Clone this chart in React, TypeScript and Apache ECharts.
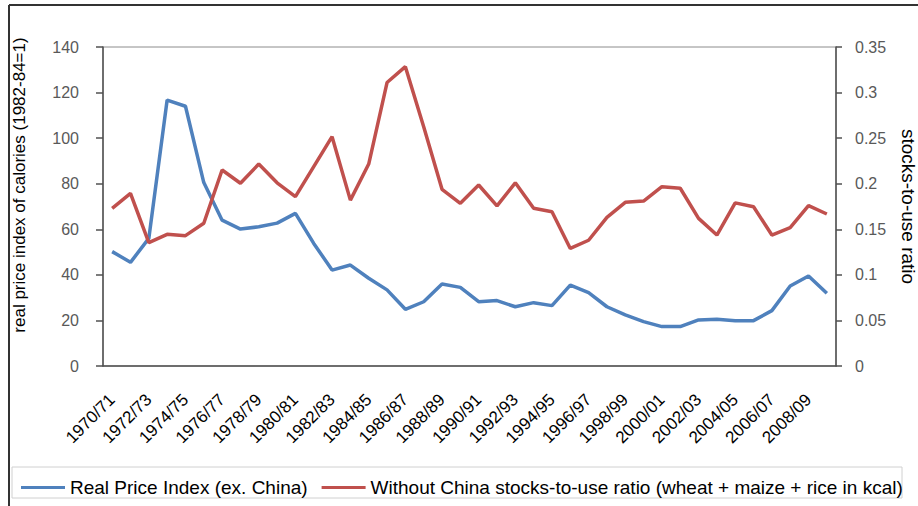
import React, { useEffect, useRef } from "react";
import * as echarts from "echarts";

const categories: string[] = [
  "1970/71", "1971/72", "1972/73", "1973/74", "1974/75", "1975/76", "1976/77", "1977/78", "1978/79", "1979/80",
  "1980/81", "1981/82", "1982/83", "1983/84", "1984/85", "1985/86", "1986/87", "1987/88", "1988/89", "1989/90",
  "1990/91", "1991/92", "1992/93", "1993/94", "1994/95", "1995/96", "1996/97", "1997/98", "1998/99", "1999/00",
  "2000/01", "2001/02", "2002/03", "2003/04", "2004/05", "2005/06", "2006/07", "2007/08", "2008/09", "2009/10",
];

const realPriceIndex: number[] = [
  50.2, 45.5, 56, 116.7, 114, 80.5, 64, 60.1, 61.1, 62.7,
  67, 53.8, 42.1, 44.3, 38.5, 33.4, 24.9, 28.2, 36, 34.5,
  28.2, 28.7, 26, 27.8, 26.5, 35.5, 32.2, 26, 22.4, 19.5,
  17.3, 17.3, 20.2, 20.5, 19.9, 19.9, 24.3, 35.1, 39.5, 31.9,
];

const stocksToUse: number[] = [
  0.173, 0.1895, 0.1353, 0.1445, 0.143, 0.1566, 0.215, 0.2005, 0.2216, 0.201,
  0.1858, 0.2187, 0.2516, 0.182, 0.2216, 0.311, 0.3284, 0.2626, 0.1939, 0.1785,
  0.1986, 0.1756, 0.201, 0.173, 0.1693, 0.129, 0.138, 0.163, 0.1796, 0.181,
  0.1967, 0.195, 0.162, 0.1437, 0.179, 0.1748, 0.1437, 0.1518, 0.176, 0.1668,
];

const seriesNames: string[] = [
  "Real Price Index (ex. China)",
  "Without China stocks-to-use ratio (wheat + maize + rice in kcal)",
];

const leftAxisName = "real price index of calories (1982-84=1)";
const rightAxisName = "stocks-to-use ratio";

export default function App() {
  const ref = useRef<HTMLDivElement>(null);
  useEffect(() => {
    if (!ref.current) return;
    const chart = echarts.init(ref.current, undefined, { renderer: "svg" });
    const font = "Liberation Sans, Arial, sans-serif";
    const axisColor = "#505050";
    chart.setOption({
      animation: false,
      backgroundColor: "#ffffff",
      textStyle: { fontFamily: font },
      grid: {
        left: 103,
        right: 82,
        top: 47,
        bottom: 140,
        containLabel: false,
        outerBoundsMode: "none",
        show: true,
        borderColor: "#8c8c8c",
        borderWidth: 1,
      },
      graphic: [
        { type: "line", shape: { x1: 9, y1: 5, x2: 918, y2: 5 }, style: { stroke: "#333", lineWidth: 2 } },
        { type: "line", shape: { x1: 9, y1: 5, x2: 9, y2: 506 }, style: { stroke: "#333", lineWidth: 2 } },
        { type: "rect", shape: { x: 12, y: 467, width: 890, height: 31 }, style: { fill: "none", stroke: "#d0d0d0", lineWidth: 1 } },
        {
          type: "text",
          x: 19,
          y: 185,
          rotation: Math.PI / 2,
          style: {
            text: leftAxisName,
            fontSize: 17,
            fontFamily: font,
            fill: "#000",
            align: "center",
            verticalAlign: "middle",
          },
        },
      ],
      legend: {
        left: 16,
        top: 473,
        itemGap: 14,
        itemWidth: 44,
        itemHeight: 3,
        icon: "rect",
        textStyle: { fontFamily: font, fontSize: 19, color: "#000" },
        data: seriesNames,
      },
      xAxis: {
        type: "category",
        data: categories,
        boundaryGap: true,
        axisLine: { lineStyle: { color: axisColor, width: 1.5 } },
        axisTick: { interval: 0, length: 6, lineStyle: { color: axisColor, width: 1.5 } },
        axisLabel: { interval: 1, rotate: 45, fontSize: 17, color: "#000", fontFamily: font, margin: 31 },
        splitLine: { show: false },
      },
      yAxis: [
        {
          type: "value",
          min: 0,
          max: 140,
          interval: 20,
          position: "left",
          axisLine: { show: true, lineStyle: { color: axisColor, width: 1.5 } },
          axisTick: { show: true, length: 7, lineStyle: { color: axisColor, width: 1.5 } },
          axisLabel: { fontSize: 16, color: "#595959", fontFamily: font, margin: 24 },
          splitLine: { show: false },
        },
        {
          type: "value",
          min: 0,
          max: 0.35,
          interval: 0.05,
          position: "right",
          name: rightAxisName,
          nameLocation: "middle",
          nameRotate: -90,
          nameGap: 63,
          nameTextStyle: { fontSize: 19, color: "#000", fontFamily: font },
          axisLine: { show: true, lineStyle: { color: axisColor, width: 1.5 } },
          axisTick: { show: true, length: 6, lineStyle: { color: axisColor, width: 1.5 } },
          axisLabel: { fontSize: 16, color: "#595959", fontFamily: font, margin: 19 },
          splitLine: { show: false },
        },
      ],
      series: [
        {
          name: seriesNames[0],
          type: "line",
          yAxisIndex: 0,
          data: realPriceIndex,
          showSymbol: false,
          symbol: "none",
          lineStyle: { color: "#4F81BD", width: 3.5 },
          itemStyle: { color: "#4F81BD" },
        },
        {
          name: seriesNames[1],
          type: "line",
          yAxisIndex: 1,
          data: stocksToUse,
          showSymbol: false,
          symbol: "none",
          lineStyle: { color: "#C0504D", width: 3.5 },
          itemStyle: { color: "#C0504D" },
        },
      ],
    });
    return () => chart.dispose();
  }, []);
  return (
    <div
      ref={ref}
      style={{ position: "fixed", left: 0, top: 0, width: 918, height: 506 }}
    />
  );
}
